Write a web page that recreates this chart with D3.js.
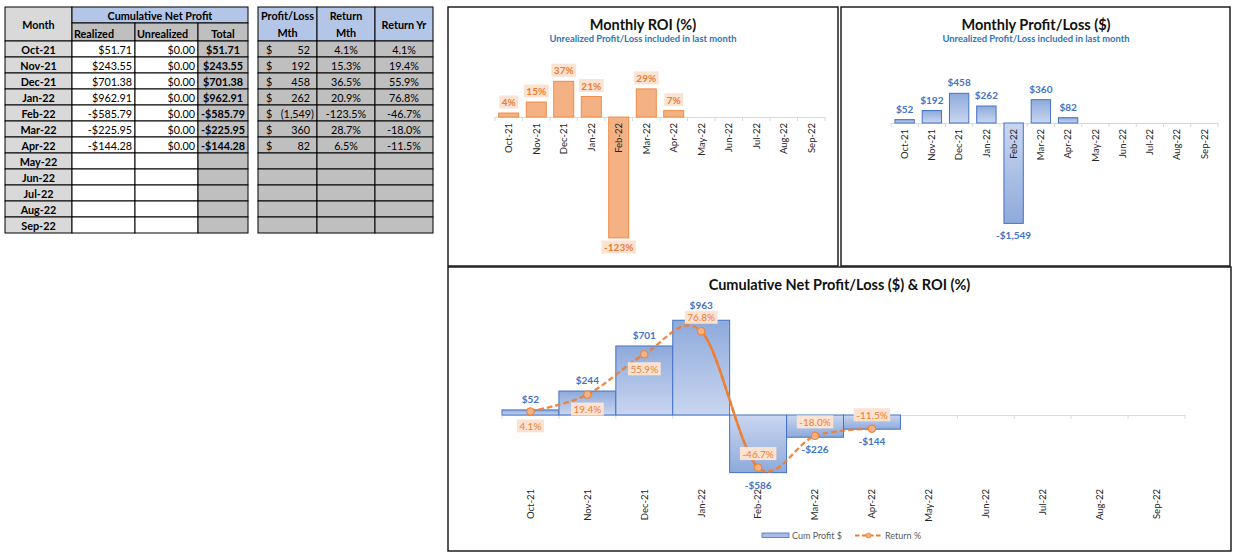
<!DOCTYPE html>
<html><head><meta charset="utf-8">
<script src="https://cdn.jsdelivr.net/npm/d3@7"></script>
<style>
body{margin:0;background:#fff;}
svg{display:block;font-family:Lato,"Open Sans",sans-serif;}
</style></head><body>
<svg id="c" width="1245" height="560"></svg>
<script>
// ---------------- DATA ----------------
const months = ["Oct-21","Nov-21","Dec-21","Jan-22","Feb-22","Mar-22","Apr-22","May-22","Jun-22","Jul-22","Aug-22","Sep-22"];
const realized = [51.71, 243.55, 701.38, 962.91, -585.79, -225.95, -144.28];
const unrealized = [0, 0, 0, 0, 0, 0, 0];
const cumTotal = [51.71, 243.55, 701.38, 962.91, -585.79, -225.95, -144.28];
const plMonth = [52, 192, 458, 262, -1549, 360, 82];
const returnMonth = [4.1, 15.3, 36.5, 20.9, -123.47, 28.7, 6.5];
const returnYear = [4.1, 19.4, 55.9, 76.8, -46.7, -18.0, -11.5];
const tableHeaders1 = ["Month","Cumulative Net Profit","Realized","Unrealized","Total"];
const tableHeaders2 = [["Profit/Loss","Mth"],["Return","Mth"],["Return Yr"]];
const legendLabels = ["Cum Profit $","Return %"];

// ---------------- SETUP ----------------
const loc = d3.formatLocale({decimal:".",thousands:",",grouping:[3],currency:["$",""],minus:"-"});
const fMoney2 = loc.format("$,.2f");
const fMoney0 = loc.format("$,.0f");
const fInt = loc.format(",.0f");
const fPct1 = v => loc.format(".1f")(v) + "%";
const fPct0 = v => loc.format(".0f")(v) + "%";

const svg = d3.select("#c");
svg.append("rect").attr("width",1245).attr("height",560).attr("fill","#fff");
const defs = svg.append("defs");
function grad(id, c0, c1){
  const g = defs.append("linearGradient").attr("id",id).attr("x1",0).attr("y1",0).attr("x2",0).attr("y2",1);
  g.append("stop").attr("offset","0%").attr("stop-color",c0);
  g.append("stop").attr("offset","100%").attr("stop-color",c1);
}
grad("gPos","#8eaadb","#c9d6f0");
grad("gNeg","#c9d6f0","#8eaadb");

const ORANGE="#ed7d31", PEACH="#f4b183", LBOX="#fbe3d4", BLUE="#4472c4";

// ---------------- TABLES ----------------
const T = svg.append("g").attr("font-size",10.8).attr("fill","#000");
const c1 = [5,72,135,198,248];
const c2 = [258,317,375,433];
const rTop = 7, rMid = 23, rData = 41, rowH = 16;
function cell(x0,y0,x1,y1,fill){
  T.append("rect").attr("x",x0).attr("y",y0).attr("width",x1-x0).attr("height",y1-y0)
   .attr("fill",fill).attr("stroke","#000").attr("stroke-width",1);
}
function txt(x,y,s,anchor,bold){
  T.append("text").attr("x",x).attr("y",y).attr("text-anchor",anchor||"middle")
   .attr("font-weight",bold?"bold":"normal").attr("dominant-baseline","central").text(s);
}
// table 1 header
cell(c1[0],rTop,c1[1],rData,"#d9d9d9"); txt((c1[0]+c1[1])/2,(rTop+rData)/2,tableHeaders1[0],"middle",true);
cell(c1[1],rTop,c1[4],rMid,"#b4c6e7"); txt((c1[1]+c1[4])/2,(rTop+rMid)/2+0.5,tableHeaders1[1],"middle",true);
cell(c1[1],rMid,c1[2],rData,"#bfbfbf"); txt(c1[1]+2,(rMid+rData)/2+1,tableHeaders1[2],"start",true);
cell(c1[2],rMid,c1[3],rData,"#bfbfbf"); txt(c1[2]+2,(rMid+rData)/2+1,tableHeaders1[3],"start",true);
cell(c1[3],rMid,c1[4],rData,"#bfbfbf"); txt((c1[3]+c1[4])/2,(rMid+rData)/2+1,tableHeaders1[4],"middle",true);
// table 2 header
tableHeaders2.forEach((h,i)=>{
  cell(c2[i],rTop,c2[i+1],rData,"#b4c6e7");
  const cx=(c2[i]+c2[i+1])/2;
  if(h.length===2){ txt(cx,15.5,h[0],"middle",true); txt(cx,32.5,h[1],"middle",true); }
  else txt(cx,24,h[0],"middle",true);
});
months.forEach((m,i)=>{
  const y0 = rData + i*rowH, y1 = y0+rowH, cy=(y0+y1)/2+0.5;
  cell(c1[0],y0,c1[1],y1,"#d9d9d9"); txt((c1[0]+c1[1])/2,cy,m,"middle",true);
  cell(c1[1],y0,c1[2],y1,"#fff");
  cell(c1[2],y0,c1[3],y1,"#fff");
  cell(c1[3],y0,c1[4],y1,"#bfbfbf");
  for(let k=0;k<3;k++) cell(c2[k],y0,c2[k+1],y1,"#bfbfbf");
  if(i<realized.length){
    txt(c1[2]-3,cy,fMoney2(realized[i]),"end",false);
    txt(c1[3]-3,cy,fMoney2(unrealized[i]),"end",false);
    txt((c1[3]+c1[4])/2,cy,fMoney2(cumTotal[i]),"middle",true);
    txt(c2[0]+8,cy,"$","start",false);
    const v=plMonth[i];
    if(v<0) txt(c2[1]-3,cy,"("+fInt(-v)+")","end",false);
    else txt(c2[1]-7,cy,fInt(v),"end",false);
    txt((c2[1]+c2[2])/2,cy,fPct1(returnMonth[i]),"middle",false);
    txt((c2[2]+c2[3])/2,cy,fPct1(returnYear[i]),"middle",false);
  }
});

// ---------------- HELPERS ----------------
function frame(x0,y0,x1,y1){
  svg.append("rect").attr("x",x0).attr("y",y0).attr("width",x1-x0).attr("height",y1-y0)
    .attr("fill","#fff").attr("stroke","#111").attr("stroke-width",1.4);
}
function titles(cx,title,sub,ty){
  svg.append("text").attr("x",cx).attr("y",ty).attr("text-anchor","middle")
    .attr("font-weight","bold").attr("font-size",14.5).attr("fill","#111").text(title);
  if(sub) svg.append("text").attr("x",cx).attr("y",ty+12).attr("text-anchor","middle")
    .attr("font-weight","bold").attr("font-size",9.4).attr("fill","#2e75b6").text(sub);
}
function xAxisLine(x, y0){
  const g = svg.append("g");
  const r = x.range();
  g.append("line").attr("x1",r[0]).attr("x2",r[1]).attr("y1",y0+0.5).attr("y2",y0+0.5)
    .attr("stroke","#d9d9d9").attr("stroke-width",1);
  const bounds = months.map(m=>x(m)+x.bandwidth()/2-x.step()/2);
  bounds.push(x(months[months.length-1])+x.bandwidth()/2+x.step()/2);
  g.selectAll("line.t").data(bounds).join("line").attr("class","t")
    .attr("x1",d=>d).attr("x2",d=>d).attr("y1",y0).attr("y2",y0+4)
    .attr("stroke","#d9d9d9");
}
function xAxisLabels(x, labelY){
  svg.append("g").selectAll("text").data(months).join("text")
    .attr("transform",d=>`translate(${x(d)+x.bandwidth()/2},${labelY}) rotate(-90)`)
    .attr("text-anchor","end").attr("dy","0.35em").attr("font-size",9.5).attr("fill","#262626")
    .text(d=>d);
}
function boxLabel(parent,x,y,s,opts){
  const g = parent.append("g");
  const r = g.append("rect").attr("fill",opts.box||"none");
  const t = g.append("text").attr("x",x).attr("y",y).attr("text-anchor","middle")
    .attr("dominant-baseline","central").attr("font-size",opts.size||10)
    .attr("font-weight",opts.bold?"bold":"normal").attr("fill",opts.color).text(s);
  if(opts.box){
    const b = t.node().getBBox();
    r.attr("x",b.x-2.5).attr("y",y-6.5).attr("width",b.width+5).attr("height",13);
  }
}

// ---------------- CHART 1: Monthly ROI ----------------
frame(448,7,838,266);
titles(643,"Monthly ROI (%)","Unrealized Profit/Loss included in last month",29.5);
{
  const x = d3.scaleBand().domain(months).range([495,825]).paddingInner(0.27).paddingOuter(0.135);
  const y = d3.scaleLinear().domain([-150,50]).range([117+147,117-49]);
  const data = returnMonth.map((v,i)=>({m:months[i],v}));
  xAxisLine(x, y(0));
  svg.append("g").selectAll("rect").data(data).join("rect")
    .attr("x",d=>x(d.m)).attr("width",x.bandwidth())
    .attr("y",d=>y(Math.max(0,d.v))).attr("height",d=>Math.abs(y(d.v)-y(0)))
    .attr("fill",PEACH).attr("stroke",ORANGE).attr("stroke-width",0.8);
  xAxisLabels(x, y(0)+6);
  const lg = svg.append("g");
  data.forEach(d=>{
    const cy = d.v>=0 ? y(d.v)-11 : y(d.v)+9;
    boxLabel(lg,x(d.m)+x.bandwidth()/2,cy,fPct0(d.v),{box:LBOX,color:ORANGE,bold:true,size:10});
  });
}

// ---------------- CHART 2: Monthly P/L ----------------
frame(841,7,1230,266);
titles(1036,"Monthly Profit/Loss ($)","Unrealized Profit/Loss included in last month",29.5);
{
  const x = d3.scaleBand().domain(months).range([891,1218]).paddingInner(0.29).paddingOuter(0.145);
  const y = d3.scaleLinear().domain([-2000,1000]).range([123+129.6,123-64.8]);
  const data = plMonth.map((v,i)=>({m:months[i],v}));
  xAxisLine(x, y(0));
  svg.append("g").selectAll("rect").data(data).join("rect")
    .attr("x",d=>x(d.m)).attr("width",x.bandwidth())
    .attr("y",d=>y(Math.max(0,d.v))).attr("height",d=>Math.abs(y(d.v)-y(0)))
    .attr("fill",d=>d.v>=0?"url(#gPos)":"url(#gNeg)").attr("stroke",BLUE).attr("stroke-width",1);
  xAxisLabels(x, y(0)+6);
  const lg = svg.append("g");
  data.forEach(d=>{
    const cy = d.v>=0 ? y(d.v)-11 : y(d.v)+12;
    boxLabel(lg,x(d.m)+x.bandwidth()/2,cy,fMoney0(d.v),{color:BLUE,bold:true,size:10});
  });
}

// ---------------- CHART 3: Cumulative ----------------
frame(448,267,1231,551);
titles(839.5,"Cumulative Net Profit/Loss ($) & ROI (%)",null,289.5);
{
  const x = d3.scaleBand().domain(months).range([502,1185]).padding(0);
  const yB = d3.scaleLinear().domain([-1000,1000]).range([415+98.4,415-98.4]);
  const yL = d3.scaleLinear().domain([-100,100]).range([416+110.4,416-110.4]);
  const bars = cumTotal.map((v,i)=>({m:months[i],v}));
  const pts = returnYear.map((v,i)=>({m:months[i],v}));
  xAxisLine(x, yB(0));
  svg.append("g").selectAll("rect").data(bars).join("rect")
    .attr("x",d=>x(d.m)).attr("width",x.bandwidth())
    .attr("y",d=>yB(Math.max(0,d.v))).attr("height",d=>Math.abs(yB(d.v)-yB(0)))
    .attr("fill",d=>d.v>=0?"url(#gPos)":"url(#gNeg)").attr("stroke",BLUE).attr("stroke-width",1);
  xAxisLabels(x, 489);
  const px = d=>x(d.m)+x.bandwidth()/2;
  const line = d3.line().x(px).y(d=>yL(d.v)).curve(d3.curveCardinal.tension(0));
  svg.append("path").attr("d",line(pts)).attr("fill","none").attr("stroke",ORANGE)
    .attr("stroke-width",2.4).attr("stroke-dasharray","5.5,3").attr("opacity",0.9);
  // solid segment Jan -> Feb
  {
    const P = [2,3,4,5].map(i=>[px(pts[i]),yL(pts[i].v)]);
    const k=1/6;
    const d = `M${P[1][0]},${P[1][1]}C${P[1][0]+k*(P[2][0]-P[0][0])},${P[1][1]+k*(P[2][1]-P[0][1])},${P[2][0]+k*(P[1][0]-P[3][0])},${P[2][1]+k*(P[1][1]-P[3][1])},${P[2][0]},${P[2][1]}`;
    svg.append("path").attr("d",d).attr("fill","none").attr("stroke",ORANGE).attr("stroke-width",2.4).attr("opacity",0.9);
  }
  svg.append("g").selectAll("circle").data(pts).join("circle")
    .attr("cx",px).attr("cy",d=>yL(d.v)).attr("r",3.8)
    .attr("fill",PEACH).attr("stroke",ORANGE).attr("stroke-width",1);
  const lg = svg.append("g");
  bars.forEach((d,i)=>{
    const cy = d.v>=0 ? yB(d.v)-(i===3?15:11) : yB(d.v)+12;
    boxLabel(lg,px(d),cy,fMoney0(d.v),{color:BLUE,bold:true,size:10});
  });
  pts.forEach((d,i)=>{
    const below = i<3;
    const cy = below ? yL(d.v)+14.5 : yL(d.v)-14;
    boxLabel(lg,px(d),cy,fPct1(d.v),{box:LBOX,color:ORANGE,size:10});
  });
  // legend
  const L = svg.append("g").attr("font-size",9).attr("fill","#595959");
  L.append("rect").attr("x",762).attr("y",533).attr("width",27).attr("height",4.5)
    .attr("fill","#a9bde6").attr("stroke",BLUE).attr("stroke-width",0.8);
  L.append("text").attr("x",792).attr("y",535.5).attr("dominant-baseline","central").text(legendLabels[0]);
  L.append("line").attr("x1",855).attr("x2",882).attr("y1",535.5).attr("y2",535.5)
    .attr("stroke",ORANGE).attr("stroke-width",2).attr("stroke-dasharray","4.5,2.5");
  L.append("circle").attr("cx",868.5).attr("cy",535.5).attr("r",2.5).attr("fill",PEACH).attr("stroke",ORANGE).attr("stroke-width",0.8);
  L.append("text").attr("x",885).attr("y",535.5).attr("dominant-baseline","central").text(legendLabels[1]);
}
</script>
</body></html>
